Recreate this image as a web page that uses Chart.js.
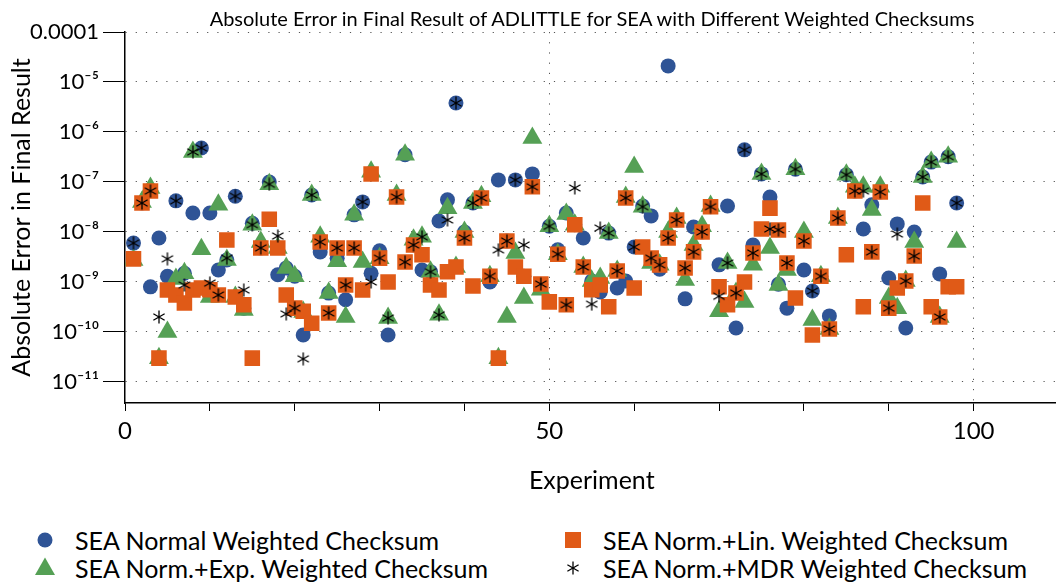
<!DOCTYPE html>
<html>
<head>
<meta charset="utf-8">
<script src="https://cdn.jsdelivr.net/npm/chart.js@4.4.0/dist/chart.umd.min.js"></script>
<style>
  body { margin: 0; background: #fff; font-family: Lato, "Noto Sans", sans-serif; overflow: hidden; }
  #wrap { position: relative; width: 1056px; height: 588px; overflow: hidden; }
  #chart { position: absolute; left: 0; top: 0; }
  #title { position: absolute; left: 292px; width: 600px; top: 6px; text-align: center;
           font-size: 20px; line-height: 24px; white-space: nowrap; color: #000; }
  #title span { display: inline-block; margin: 0 -300px; }
  .item { position: absolute; font-size: 25px; color: #000; white-space: nowrap; line-height: 28px; }
  .item svg { position: absolute; left: -42px; top: 2px; }
</style>
</head>
<body>
<div id="wrap">
  <canvas id="chart" width="1070" height="500"></canvas>
  <div id="title"><span>Absolute Error in Final Result of ADLITTLE for SEA with Different Weighted Checksums</span></div>
  <div id="legend"></div>
</div>
<script>
const seriesNames = [
  'SEA Normal Weighted Checksum',
  'SEA Norm.+Lin. Weighted Checksum',
  'SEA Norm.+Exp. Weighted Checksum',
  'SEA Norm.+MDR Weighted Checksum'
];

const normalErr = [
  6e-9, 3.8e-8, 8e-10, 7.6e-9, 1.3e-9, 4.2e-8, 1.5e-9, 2.4e-8, 4.8e-7, 2.4e-8,
  1.74e-9, 2.75e-9, 5.2e-8, 3e-10, 1.5e-8, 4.8e-9, 1e-7, 1.4e-9, 1.9e-9, 1.3e-9,
  8.7e-11, 5.5e-8, 4e-9, 6e-10, 3e-9, 4.4e-10, 2.2e-8, 4e-8, 1.5e-9, 4.2e-9,
  8.7e-11, 5e-8, 3.5e-7, 5.5e-9, 1.74e-9, 1.6e-9, 1.66e-8, 4.4e-8, 3.8e-6, 1e-8,
  3.8e-8, 4.8e-8, 1e-9, 1.1e-7, 6.6e-9, 1.1e-7, 1.3e-9, 1.45e-7, 9e-10, 1.3e-8,
  4.4e-9, 2.4e-8, 1.4e-8, 7.6e-9, 1.05e-9, 6.3e-10, 9.5e-9, 7.6e-10, 1.05e-9, 5e-9,
  3.3e-8, 2.1e-8, 1.8e-9, 2.1e-5, 1.74e-8, 4.6e-10, 1.26e-8, 1e-8, 3.2e-8, 2.2e-9,
  3.3e-8, 1.2e-10, 4.4e-7, 5.5e-9, 1.45e-7, 5e-8, 9e-10, 3e-10, 1.8e-7, 1.74e-9,
  6.6e-10, 1.3e-9, 2.1e-10, 1.9e-8, 1.4e-7, 6.6e-8, 1.15e-8, 3.5e-8, 6.3e-8, 1.2e-9,
  1.45e-8, 1.2e-10, 1e-8, 1.26e-7, 2.5e-7, 1.45e-9, 3.2e-7, 3.8e-8
];

const linErr = [
  2.9e-9, 3.8e-8, 6.6e-8, 3e-11, 6.9e-10, 5.5e-10, 3.8e-10, 6.9e-10, 7.6e-10, 7e-10,
  5.5e-10, 6.9e-9, 5e-10, 3.5e-10, 3e-11, 4.8e-9, 1.8e-8, 4.8e-9, 5.5e-10, 3e-10,
  2.6e-10, 1.5e-10, 6.3e-9, 2.4e-10, 4.8e-9, 8.7e-10, 4.8e-9, 6.9e-10, 1.45e-7, 3e-9,
  1e-9, 5e-8, 2.5e-9, 5.5e-9, 3.5e-9, 8.7e-10, 6.9e-10, 1.6e-9, 2e-9, 7.6e-9,
  8.3e-10, 4.8e-8, 1.3e-9, 3e-11, 6.6e-9, 2e-9, 1.3e-9, 8e-8, 9.1e-10, 4e-10,
  3.6e-9, 3.5e-10, 1.4e-8, 2e-9, 7e-10, 8.7e-10, 3.2e-10, 1.66e-9, 4.8e-8, 7.6e-10,
  5e-9, 3e-9, 2.2e-9, 7.6e-9, 1.74e-8, 1.9e-9, 4e-9, 1e-8, 3.2e-8, 8e-10,
  3.5e-10, 6e-10, 1e-9, 3.8e-9, 1.15e-8, 3e-8, 1.1e-8, 2.4e-9, 4.8e-10, 6.6e-9,
  8.7e-11, 1.3e-9, 1.15e-10, 1.9e-8, 3.5e-9, 6.6e-8, 3.2e-10, 4e-9, 6.3e-8, 3e-10,
  7.6e-10, 1.05e-9, 3.3e-9, 3.8e-8, 3.2e-10, 2e-10, 8e-10, 8e-10
];

const expErr = [
  2.75e-9, 4e-8, 7.6e-8, 3e-11, 1e-10, 1.15e-9, 1.5e-9, 4e-7, 4.5e-9, 5e-10,
  3.5e-8, 2.75e-9, 5e-10, 2.75e-10, 1.4e-8, 6.3e-9, 9e-8, 4.8e-9, 1.9e-9, 1.3e-9,
  2.5e-10, 5.5e-8, 8e-9, 6e-10, 2.6e-9, 2e-10, 2.2e-8, 2.5e-9, 1.6e-7, 3e-9,
  1.9e-10, 5.5e-8, 3.5e-7, 7e-9, 8e-9, 1.6e-9, 2.2e-10, 3e-8, 2e-9, 1e-8,
  3.8e-8, 5.2e-8, 1.3e-9, 3e-11, 2e-10, 3.8e-9, 4.8e-10, 7.6e-7, 7e-10, 1.3e-8,
  3.6e-9, 2.3e-8, 1.4e-8, 2e-9, 1.05e-9, 1.2e-9, 9.5e-9, 1.66e-9, 5e-8, 2e-7,
  3.2e-8, 2.4e-9, 2.2e-9, 1e-8, 1.9e-8, 1.1e-9, 5.5e-9, 1.3e-8, 3.3e-8, 2.6e-10,
  2.4e-9, 6e-10, 4e-10, 2.2e-9, 1.45e-7, 4.8e-9, 8.7e-10, 1.74e-9, 1.8e-7, 1e-8,
  1.74e-10, 1.3e-9, 1.15e-10, 1.9e-8, 1.4e-7, 8e-8, 8e-8, 2.75e-8, 8e-8, 4.8e-10,
  3e-10, 1.05e-9, 6.3e-9, 1.26e-7, 2.5e-7, 2e-10, 3.2e-7, 6.3e-9
];

const mdrErr = [
  6e-9, 3.8e-8, 6.6e-8, 2e-10, 2.9e-9, 4.2e-8, 8.7e-10, 4e-7, 4.8e-7, 9.5e-10,
  5.5e-10, 3e-9, 5.2e-8, 6.9e-10, 1.4e-8, 4.8e-9, 9e-8, 8.3e-9, 2.3e-10, 3e-10,
  2.9e-11, 5.5e-8, 6.3e-9, 2.4e-10, 4.8e-9, 8.7e-10, 4.8e-9, 4e-8, 1e-9, 3e-9,
  1.9e-10, 5e-8, 2.5e-9, 5.5e-9, 8e-9, 1.6e-9, 2.2e-10, 1.74e-8, 3.8e-6, 7.6e-9,
  3.8e-8, 4.8e-8, 1.3e-9, 4.4e-9, 6.6e-9, 1.1e-7, 5.5e-9, 8e-8, 9.1e-10, 1.3e-8,
  3.6e-9, 3.5e-10, 7.6e-8, 2e-9, 3.6e-10, 1.2e-8, 9.5e-9, 1.66e-9, 4.8e-8, 5e-9,
  3.2e-8, 3e-9, 2.2e-9, 7.6e-9, 1.74e-8, 1.9e-9, 4e-9, 1e-8, 3.2e-8, 5.2e-10,
  2.4e-9, 6e-10, 4.4e-7, 3.8e-9, 1.45e-7, 1.15e-8, 1.1e-8, 2.4e-9, 1.8e-7, 6.6e-9,
  6.6e-10, 1.3e-9, 1.15e-10, 1.9e-8, 1.4e-7, 6.6e-8, 6.6e-8, 4e-9, 6.3e-8, 3e-10,
  9.1e-9, 1.05e-9, 3.3e-9, 1.26e-7, 2.5e-7, 2e-10, 3.2e-7, 3.8e-8
];

const xTicks = [0, 10, 20, 30, 40, 50, 60, 70, 80, 90, 100, 110];
const xTickLabels = { 0: '0', 50: '50', 100: '100' };
const yTicks = [1e-4, 1e-5, 1e-6, 1e-7, 1e-8, 1e-9, 1e-10, 1e-11];
const yTickLabels = ['0.0001', '10⁻⁵', '10⁻⁶', '10⁻⁷', '10⁻⁸', '10⁻⁹', '10⁻¹⁰', '10⁻¹¹'];

const blue = '#2f5496';
const orange = '#e05a17';
const green = '#55a055';

// asterisco de 6 brazos como en pgfplots
function makeStar(size) {
  const c = document.createElement('canvas');
  c.width = size; c.height = size;
  const g = c.getContext('2d');
  const r = size / 2 - 0.5;
  g.strokeStyle = '#000';
  g.lineWidth = 1.3;
  g.beginPath();
  for (const a of [90, 30, 150]) {
    const rad = a * Math.PI / 180;
    g.moveTo(size / 2 + Math.cos(rad) * r, size / 2 - Math.sin(rad) * r);
    g.lineTo(size / 2 - Math.cos(rad) * r, size / 2 + Math.sin(rad) * r);
  }
  g.stroke();
  return c;
}
const starImg = makeStar(14);

const toPoints = arr => arr.map((v, i) => ({ x: i + 1, y: v }));

const ctx = document.getElementById('chart').getContext('2d');
const chart = new Chart(ctx, {
  type: 'scatter',
  data: {
    datasets: [
      { label: seriesNames[0], data: toPoints(normalErr), pointStyle: 'circle', pointRadius: 7.5,
        backgroundColor: blue, borderWidth: 0, order: 4 },
      { label: seriesNames[1], data: toPoints(linErr), pointStyle: 'rect', pointRadius: 11,
        backgroundColor: orange, borderWidth: 0, order: 2 },
      { label: seriesNames[2], data: toPoints(expErr), pointStyle: 'triangle', pointRadius: 11.5,
        backgroundColor: green, borderWidth: 0, order: 3 },
      { label: seriesNames[3], data: toPoints(mdrErr), pointStyle: starImg, pointRadius: 7,
        order: 1 }
    ]
  },
  options: {
    responsive: false,
    animation: false,
    layout: { padding: { left: 0, right: 8, top: 32, bottom: 0 } },
    plugins: {
      legend: { display: false },
      tooltip: { enabled: false },
      title: { display: false }
    },
    scales: {
      x: {
        type: 'linear',
        min: 0,
        max: 110,
        afterBuildTicks: s => { s.ticks = xTicks.map(v => ({ value: v })); },
        afterFit: s => { s.height = 97; },
        ticks: {
          autoSkip: false, maxRotation: 0, color: '#000', padding: 6,
          font: { family: 'Lato', size: 24 },
          callback: v => xTickLabels[v] || ''
        },
        grid: {
          color: c => (c.tick && c.tick.value > 0 && c.tick.value % 50 === 0) ? '#555' : 'rgba(0,0,0,0)',
          tickColor: c => (c.tick && c.tick.value === 110) ? 'rgba(0,0,0,0)' : '#000',
          tickLength: 8,
          lineWidth: 1
        },
        border: { color: '#000', width: 1.5, dash: [1.2, 9] },
        title: {
          display: true, text: 'Experiment', color: '#000',
          font: { family: 'Lato', size: 25 }, padding: { top: 4 }
        }
      },
      y: {
        type: 'logarithmic',
        min: 3.8e-12,
        max: 1e-4,
        afterBuildTicks: s => { s.ticks = yTicks.map(v => ({ value: v })); },
        afterFit: s => { s.width = 125; },
        ticks: {
          color: '#000', padding: 4,
          font: { family: 'Lato', size: 22 },
          callback: (v, i) => yTickLabels[i]
        },
        grid: {
          color: '#555',
          tickColor: '#000',
          tickLength: 22,
          lineWidth: 1
        },
        border: { color: '#000', width: 1.5, dash: [1.2, 9] },
        title: {
          display: true, text: 'Absolute Error in Final Result', color: '#000',
          font: { family: 'Lato', size: 25 }, padding: { top: 7, bottom: 0 }
        }
      }
    }
  }
});

// leyenda en dos columnas, como en la figura
const legendPos = [
  { left: 75, top: 526 }, { left: 603, top: 526 },
  { left: 75, top: 554 }, { left: 603, top: 554 }
];
const legendIcons = [
  `<svg width="24" height="24"><circle cx="12" cy="12" r="7.5" fill="${blue}"/></svg>`,
  `<svg width="24" height="24"><rect x="4" y="4" width="16" height="16" fill="${orange}"/></svg>`,
  `<svg width="24" height="24"><polygon points="12,1.5 22,19 2,19" fill="${green}"/></svg>`,
  `<svg width="24" height="24"><g stroke="#000" stroke-width="1.3"><line x1="12" y1="5.5" x2="12" y2="18.5"/><line x1="6.4" y1="8.8" x2="17.6" y2="15.2"/><line x1="6.4" y1="15.2" x2="17.6" y2="8.8"/></g></svg>`
];
const legendEl = document.getElementById('legend');
seriesNames.forEach((name, i) => {
  const d = document.createElement('div');
  d.className = 'item';
  d.style.left = legendPos[i].left + 'px';
  d.style.top = legendPos[i].top + 'px';
  d.innerHTML = legendIcons[i] + name;
  legendEl.appendChild(d);
});
</script>
</body>
</html>
